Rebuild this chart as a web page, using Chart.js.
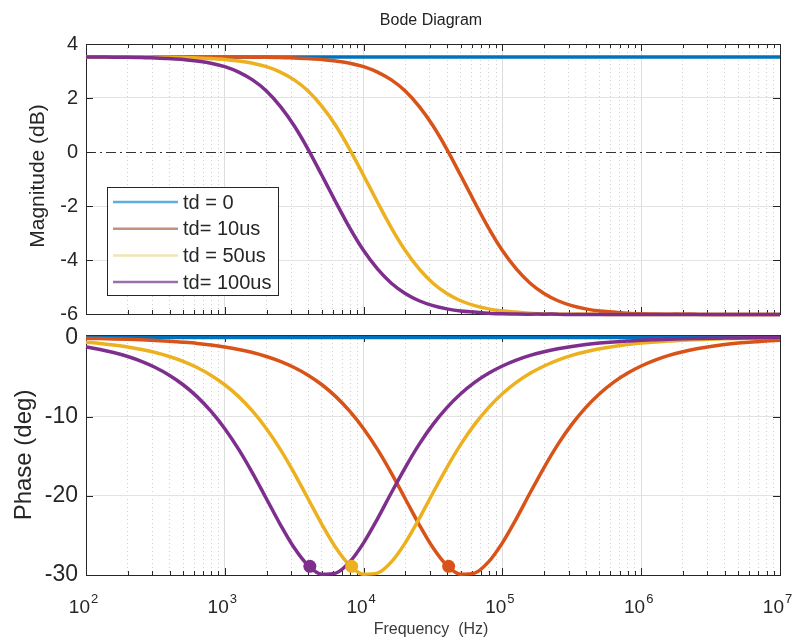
<!DOCTYPE html>
<html>
<head>
<meta charset="utf-8">
<title>Bode Diagram</title>
<script src="https://cdn.jsdelivr.net/npm/chart.js@4.4.1/dist/chart.umd.min.js"></script>
<style>
  html, body { margin: 0; padding: 0; background: #fff; }
  #wrap { position: relative; width: 798px; height: 643px; overflow: hidden; }
  canvas { position: absolute; left: 0; }
  #magChart { top: 0; }
  #phaseChart { top: 313px; }
</style>
</head>
<body>
<div id="wrap">
  <canvas id="magChart" width="798" height="334"></canvas>
  <canvas id="phaseChart" width="798" height="330"></canvas>
</div>
<script>
// Frequency points (Hz), 10 per decade
const freq = [100, 126, 158, 200, 251, 316, 398, 501, 631, 794,
  1000, 1259, 1585, 1995, 2512, 3162, 3981, 5012, 6310, 7943,
  10000, 12589, 15849, 19953, 25119, 31623, 39811, 50119, 63096, 79433,
  100000, 125893, 158489, 199526, 251189, 316228, 398107, 501187, 630957, 794328,
  1000000, 1258925, 1584893, 1995262, 2511886, 3162278, 3981072, 5011872, 6309573, 7943282,
  10000000];

const seriesLabels = ['td = 0', 'td= 10us', 'td = 50us', 'td= 100us'];
const seriesColors = ['#0072BD', '#D95319', '#EDB120', '#7E2F8E'];
const legendColors = ['#5dade2', '#c3907c', '#f2e4b0', '#9c6fa8'];

// Magnitude (dB)
const magTd0 = [3.52, 3.52, 3.52, 3.52, 3.52, 3.52, 3.52, 3.52, 3.52, 3.52,
  3.52, 3.52, 3.52, 3.52, 3.52, 3.52, 3.52, 3.52, 3.52, 3.52,
  3.52, 3.52, 3.52, 3.52, 3.52, 3.52, 3.52, 3.52, 3.52, 3.52,
  3.52, 3.52, 3.52, 3.52, 3.52, 3.52, 3.52, 3.52, 3.52, 3.52,
  3.52, 3.52, 3.52, 3.52, 3.52, 3.52, 3.52, 3.52, 3.52, 3.52, 3.52];
const magTd10 = [3.52, 3.52, 3.52, 3.52, 3.52, 3.52, 3.52, 3.52, 3.52, 3.52,
  3.52, 3.52, 3.51, 3.51, 3.50, 3.48, 3.46, 3.43, 3.37, 3.29,
  3.16, 2.96, 2.67, 2.26, 1.69, 0.97, 0.10, -0.87, -1.86, -2.81,
  -3.65, -4.33, -4.86, -5.24, -5.51, -5.69, -5.81, -5.89, -5.93, -5.97,
  -5.99, -6.00, -6.01, -6.01, -6.01, -6.02, -6.02, -6.02, -6.02, -6.02, -6.02];
const magTd50 = [3.52, 3.52, 3.52, 3.52, 3.52, 3.51, 3.51, 3.50, 3.48, 3.46,
  3.43, 3.37, 3.29, 3.16, 2.96, 2.67, 2.26, 1.69, 0.97, 0.10,
  -0.87, -1.86, -2.81, -3.65, -4.33, -4.86, -5.24, -5.51, -5.69, -5.81,
  -5.89, -5.93, -5.97, -5.99, -6.00, -6.01, -6.01, -6.01, -6.02, -6.02,
  -6.02, -6.02, -6.02, -6.02, -6.02, -6.02, -6.02, -6.02, -6.02, -6.02, -6.02];
const magTd100 = [3.52, 3.52, 3.51, 3.51, 3.50, 3.48, 3.46, 3.43, 3.37, 3.29,
  3.16, 2.96, 2.67, 2.26, 1.69, 0.97, 0.10, -0.87, -1.86, -2.81,
  -3.65, -4.33, -4.86, -5.24, -5.51, -5.69, -5.81, -5.89, -5.93, -5.97,
  -5.99, -6.00, -6.01, -6.01, -6.01, -6.02, -6.02, -6.02, -6.02, -6.02,
  -6.02, -6.02, -6.02, -6.02, -6.02, -6.02, -6.02, -6.02, -6.02, -6.02, -6.02];

// Phase (deg)
const phaseTd0 = [0, 0, 0, 0, 0, 0, 0, 0, 0, 0,
  0, 0, 0, 0, 0, 0, 0, 0, 0, 0,
  0, 0, 0, 0, 0, 0, 0, 0, 0, 0,
  0, 0, 0, 0, 0, 0, 0, 0, 0, 0,
  0, 0, 0, 0, 0, 0, 0, 0, 0, 0, 0];
const phaseTd10 = [-0.12, -0.15, -0.19, -0.24, -0.30, -0.38, -0.48, -0.61, -0.76, -0.96,
  -1.21, -1.52, -1.91, -2.41, -3.02, -3.80, -4.77, -5.98, -7.48, -9.32,
  -11.53, -14.14, -17.13, -20.37, -23.63, -26.57, -28.79, -29.90, -29.76, -28.35,
  -25.94, -22.91, -19.62, -16.43, -13.51, -10.99, -8.86, -7.11, -5.68, -4.53,
  -3.61, -2.87, -2.28, -1.81, -1.44, -1.15, -0.91, -0.72, -0.57, -0.46, -0.36];
const phaseTd50 = [-0.61, -0.76, -0.96, -1.21, -1.52, -1.91, -2.41, -3.02, -3.80, -4.77,
  -5.98, -7.48, -9.32, -11.53, -14.14, -17.13, -20.37, -23.63, -26.57, -28.79,
  -29.90, -29.76, -28.35, -25.94, -22.91, -19.62, -16.43, -13.51, -10.99, -8.86,
  -7.11, -5.68, -4.53, -3.61, -2.87, -2.28, -1.81, -1.44, -1.15, -0.91,
  -0.72, -0.57, -0.46, -0.36, -0.29, -0.23, -0.18, -0.14, -0.11, -0.09, -0.07];
const phaseTd100 = [-1.21, -1.52, -1.91, -2.41, -3.02, -3.80, -4.77, -5.98, -7.48, -9.32,
  -11.53, -14.14, -17.13, -20.37, -23.63, -26.57, -28.79, -29.90, -29.76, -28.35,
  -25.94, -22.91, -19.62, -16.43, -13.51, -10.99, -8.86, -7.11, -5.68, -4.53,
  -3.61, -2.87, -2.28, -1.81, -1.44, -1.15, -0.91, -0.72, -0.57, -0.46,
  -0.36, -0.29, -0.23, -0.18, -0.14, -0.11, -0.09, -0.07, -0.06, -0.05, -0.04];

// Gain crossover markers on the phase panel (td = 10us, 50us, 100us)
const crossFreq = [41000, 8200, 4100];
const crossPhase = [-28.9, -28.9, -28.9];

// Axis ticks
const magTicks = [-6, -4, -2, 0, 2, 4];
const phaseTicks = [-30, -20, -10, 0];
const decadeExps = [2, 3, 4, 5, 6, 7];

const ink = '#262626';
const font = '"Liberation Sans", Arial, Helvetica, sans-serif';

const magSeries = [magTd0, magTd10, magTd50, magTd100];
const phaseSeries = [phaseTd0, phaseTd10, phaseTd50, phaseTd100];

function lineSets(series) {
  return series.map((vals, i) => ({
    label: seriesLabels[i],
    data: freq.map((f, k) => ({ x: f, y: vals[k] })),
    borderColor: seriesColors[i],
    backgroundColor: seriesColors[i],
    borderWidth: 3.5,
    pointRadius: 0,
    cubicInterpolationMode: 'monotone',
    clip: 6,
    order: 3 - i
  }));
}

// x ticks: 1..9 per decade, decade lines are major
function logTicks(scale) {
  const t = [];
  for (let e = 2; e < 7; e++) {
    for (let k = 1; k <= 9; k++) t.push({ value: k * Math.pow(10, e), major: k === 1 });
  }
  t.push({ value: 1e7, major: true });
  scale.ticks = t;
}

function xScale(height) {
  return {
    type: 'logarithmic',
    min: 100,
    max: 1e7,
    afterBuildTicks: logTicks,
    afterFit: s => { s.height = height; },
    ticks: { display: false, autoSkip: false },
    grid: {
      drawTicks: false,
      color: c => (c.tick && c.tick.major ? '#dddddd' : '#cfcfcf')
    },
    border: {
      display: false,
      dash: c => (c.tick && c.tick.major ? [] : [1, 3])
    }
  };
}

function yScale(min, max, ticks, size, zeroLine) {
  return {
    min: min,
    max: max,
    afterBuildTicks: s => { s.ticks = ticks.map(v => ({ value: v })); },
    afterFit: s => { s.width = 86; },
    ticks: { color: ink, padding: 8, font: { family: font, size: size } },
    grid: {
      drawTicks: false,
      color: c => (zeroLine && c.tick && c.tick.value === 0 ? '#333333' : '#e2e2e2')
    },
    border: {
      display: false,
      dash: c => (zeroLine && c.tick && c.tick.value === 0 ? [10, 4, 2, 4] : [])
    }
  };
}

// Box and inward tick marks, like the original axes
const boxPlugin = {
  id: 'box',
  beforeDatasetsDraw(chart) {
    const { ctx, chartArea: a, scales } = chart;
    ctx.save();
    ctx.strokeStyle = ink;
    ctx.lineWidth = 1;
    ctx.beginPath();
    scales.x.ticks.forEach(t => {
      const x = Math.round(scales.x.getPixelForValue(t.value)) + 0.5;
      const len = t.major ? 7 : 4;
      ctx.moveTo(x, a.bottom); ctx.lineTo(x, a.bottom - len);
      ctx.moveTo(x, a.top); ctx.lineTo(x, a.top + len);
    });
    scales.y.ticks.forEach(t => {
      const y = Math.round(scales.y.getPixelForValue(t.value)) + 0.5;
      ctx.moveTo(a.left, y); ctx.lineTo(a.left + 7, y);
      ctx.moveTo(a.right, y); ctx.lineTo(a.right - 7, y);
    });
    ctx.stroke();
    ctx.strokeRect(Math.round(a.left) + 0.5, Math.round(a.top) + 0.5,
      Math.round(a.width), Math.round(a.height));
    ctx.restore();
  }
};

function vText(ctx, text, x, y, size) {
  ctx.save();
  ctx.translate(x, y);
  ctx.rotate(-Math.PI / 2);
  ctx.font = size + 'px ' + font;
  ctx.fillStyle = ink;
  ctx.textAlign = 'center';
  ctx.textBaseline = 'middle';
  ctx.fillText(text, 0, 0);
  ctx.restore();
}

const magText = {
  id: 'magText',
  afterDraw(chart) {
    const { ctx, chartArea: a } = chart;
    ctx.save();
    ctx.font = '16px ' + font;
    ctx.fillStyle = '#222';
    ctx.textAlign = 'center';
    ctx.textBaseline = 'alphabetic';
    ctx.fillText('Bode Diagram', 431, 25);
    ctx.restore();
    vText(ctx, 'Magnitude (dB)', 38, 176, 21);

    // legend
    const x0 = a.left + 21, y0 = a.top + 143, w = 171, h = 108;
    ctx.save();
    ctx.fillStyle = '#fff';
    ctx.fillRect(x0, y0, w, h);
    ctx.strokeStyle = ink;
    ctx.lineWidth = 1;
    ctx.strokeRect(x0 + 0.5, y0 + 0.5, w, h);
    ctx.font = '20px ' + font;
    ctx.textBaseline = 'middle';
    ctx.textAlign = 'left';
    seriesLabels.forEach((lbl, i) => {
      const y = y0 + 15 + i * 26.7;
      ctx.strokeStyle = legendColors[i];
      ctx.lineWidth = 2.5;
      ctx.beginPath();
      ctx.moveTo(x0 + 6, y);
      ctx.lineTo(x0 + 71, y);
      ctx.stroke();
      ctx.fillStyle = ink;
      ctx.fillText(lbl, x0 + 76, y + 1);
    });
    ctx.restore();
  }
};

const phaseText = {
  id: 'phaseText',
  afterDraw(chart) {
    const { ctx, scales } = chart;
    vText(ctx, 'Phase (deg)', 24, 142, 24);
    ctx.save();
    ctx.fillStyle = ink;
    ctx.textBaseline = 'alphabetic';
    ctx.textAlign = 'left';
    decadeExps.forEach(e => {
      const x = scales.x.getPixelForValue(Math.pow(10, e));
      ctx.font = '19px ' + font;
      const wb = ctx.measureText('10').width;
      ctx.font = '13px ' + font;
      const we = ctx.measureText(String(e)).width;
      const start = x - (wb + we) / 2 - 3;
      ctx.font = '19px ' + font;
      ctx.fillText('10', start, 300);
      ctx.font = '13px ' + font;
      ctx.fillText(String(e), start + wb + 1, 290);
    });
    ctx.font = '16px ' + font;
    ctx.fillStyle = '#3a3a3a';
    ctx.textAlign = 'center';
    ctx.fillText('Frequency  (Hz)', 431, 321);
    ctx.restore();
  }
};

const common = {
  responsive: false,
  animation: false,
  events: [],
  plugins: { legend: { display: false }, tooltip: { enabled: false } }
};

new Chart(document.getElementById('magChart'), {
  type: 'line',
  data: { datasets: lineSets(magSeries) },
  options: Object.assign({}, common, {
    layout: { padding: { left: 0, right: 18, top: 44, bottom: 20 } },
    scales: {
      x: xScale(0),
      y: yScale(-6, 4, magTicks, 20, true)
    }
  }),
  plugins: [boxPlugin, magText]
});

const markerSets = crossFreq.map((f, i) => ({
  label: seriesLabels[i + 1] + ' crossover',
  data: [{ x: f, y: crossPhase[i] }],
  showLine: false,
  pointRadius: 6.5,
  pointBorderWidth: 0,
  pointBackgroundColor: seriesColors[i + 1],
  borderColor: seriesColors[i + 1],
  clip: 8,
  order: -1
}));

new Chart(document.getElementById('phaseChart'), {
  type: 'line',
  data: { datasets: lineSets(phaseSeries).concat(markerSets) },
  options: Object.assign({}, common, {
    layout: { padding: { left: 0, right: 18, top: 22, bottom: 0 } },
    scales: {
      x: xScale(68),
      y: yScale(-30, 0.3, phaseTicks, 23, false)
    }
  }),
  plugins: [boxPlugin, phaseText]
});
</script>
</body>
</html>
